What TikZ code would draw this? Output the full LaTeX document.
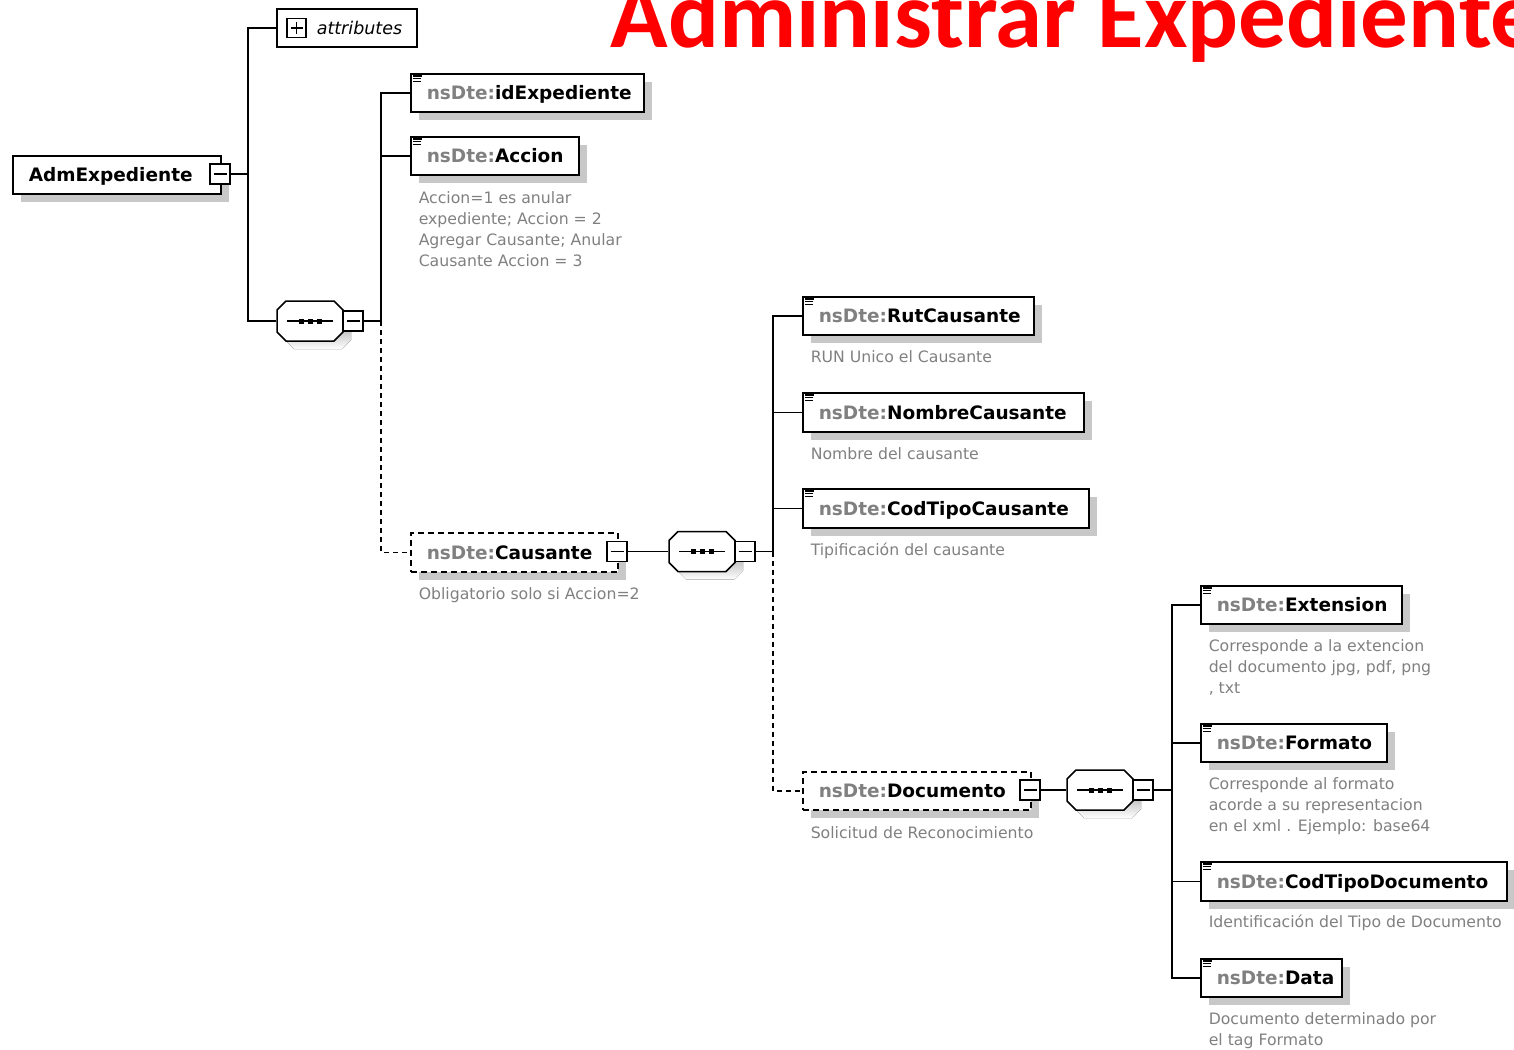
\documentclass[tikz,border=0pt]{standalone}
\usepackage{fontspec}
\setmainfont{DejaVu Sans}
\newfontfamily\titlefont{Carlito}
\usetikzlibrary{calc,shadows}
\definecolor{nsgray}{RGB}{128,128,128}
\definecolor{anncol}{RGB}{128,128,128}
\definecolor{shade}{RGB}{200,200,200}
\definecolor{titlered}{RGB}{255,0,0}
\newcommand\el[1]{\mbox{\textcolor{nsgray}{nsDte:}#1}}
\newcommand\elicon[1]{%
  \draw[line width=1.4pt] ($(#1.north west)+(3,2.8)$) -- +(8.5,0)
                        ($(#1.north west)+(3,5.5)$) -- +(8,0)
                        ($(#1.north west)+(3,8.2)$) -- +(8,0);}
\newcommand\seqat[3]{%
  \begin{scope}[shift={(#2,#3)}]
    \fill[shade] (-16,-12) -- (32,-12) -- (41,-3) -- (41,19) -- (32,28) -- (-16,28) -- (-25,19) -- (-25,-3) -- cycle;
    \node[seqnode] (#1) at (0,0) {};
    \draw[fill=white] (-24,-20) -- (24,-20) -- (33,-11) -- (33,11) -- (24,20) -- (-24,20) -- (-33,11) -- (-33,-11) -- cycle;
    \draw[line width=1.2pt] (-23,0) -- (23,0);
    \fill (-11.5,-2.5) rectangle (-6.5,2.5);
    \fill (-2.5,-2.5) rectangle (2.5,2.5);
    \fill (6.5,-2.5) rectangle (11.5,2.5);
  \end{scope}}
\begin{document}
\begin{tikzpicture}[x=1pt,y=-1pt,line width=1.5pt,
  elem/.style={draw=black, fill=white, line width=1.5pt, minimum height=38pt,
    inner xsep=16pt, inner ysep=0pt, align=left, text height=15pt, text depth=1.5pt,
    font=\fontsize{18.5}{22}\selectfont\bfseries, anchor=north west,
    drop shadow={shadow xshift=8pt, shadow yshift=-8pt, fill=shade, opacity=1}},
  optelem/.style={elem, dash pattern=on 6pt off 4pt},
  mbox/.style={draw, fill=white, line width=1.3pt, minimum size=20pt, inner sep=0pt,
    path picture={\draw[line width=1.3pt] ([xshift=3.5pt]path picture bounding box.west) -- ([xshift=-3.5pt]path picture bounding box.east);}},
  pbox/.style={draw, fill=white, line width=1.3pt, minimum size=19pt, inner sep=0pt,
    path picture={\draw[line width=1.3pt] ([xshift=3.5pt]path picture bounding box.west) -- ([xshift=-3.5pt]path picture bounding box.east)
      ([yshift=-3.5pt]path picture bounding box.north) -- ([yshift=3.5pt]path picture bounding box.south);}},
  seqnode/.style={minimum width=66pt, minimum height=40pt, inner sep=0pt},
  ann/.style={anchor=north west, inner sep=0pt, align=left, text=anncol,
    font=\fontsize{15.7}{21}\selectfont},
  conn/.style={line width=1.5pt},
  optconn/.style={line width=1.5pt, dash pattern=on 5pt off 4pt}]
\useasboundingbox (0,0) rectangle (1514,1049);
% title
\begin{scope}
  \clip (0,0) rectangle (1514,1049);
  \node[anchor=base west, inner sep=0pt, text=titlered,
        font=\fontsize{95}{100}\selectfont\titlefont\bfseries] (title) at (610,47.5) {Administrar Expediente};
\end{scope}
% root
\node[elem, text width=176pt] (adm) at (12,155) {\mbox{AdmExpediente}};
\node[mbox] (admm) at (220,174) {};
% attributes
\node[draw, fill=white, line width=1.5pt, minimum width=140pt, minimum height=38pt, inner sep=0pt,
      font=\fontsize{17.5}{20}\selectfont\itshape] (attr) at (347,28) {\hspace*{25pt}attributes};
\node[pbox] (attrp) at (296.5,28) {};
% sequence 1
\seqat{s1}{310}{321}
\node[mbox] (s1m) at (353,321) {};
% level 2
\node[elem, text width=201pt] (idexp) at (410,73) {\el{idExpediente}};
\elicon{idexp}
\node[elem, text width=136pt] (accion) at (410,136) {\el{Accion}};
\elicon{accion}
\node[ann] (aaccion) at (418,188.3) {\strut Accion=1 es anular\\expediente; Accion = 2\\Agregar Causante; Anular\\Causante Accion = 3};
\node[optelem, text width=175pt, minimum height=39pt] (caus) at (410,532) {\el{Causante}};
\node[mbox] (causm) at (617,551.5) {};
\node[ann] (acaus) at (418,584.3) {\strut Obligatorio solo si Accion=2};
% sequence 2
\seqat{s2}{702}{551.5}
\node[mbox] (s2m) at (745,551.5) {};
% level 3
\node[elem, text width=199pt] (rut) at (802,296) {\el{RutCausante}};
\elicon{rut}
\node[ann] (arut) at (810,347.3) {\strut RUN Unico el Causante};
\node[elem, text width=249pt, minimum height=39pt] (nombre) at (802,392) {\el{NombreCausante}};
\elicon{nombre}
\node[ann] (anombre) at (810,444.3) {\strut Nombre del causante};
\node[elem, text width=254pt, minimum height=39pt] (codtc) at (802,488) {\el{CodTipoCausante}};
\elicon{codtc}
\node[ann] (acodtc) at (810,540.3) {\strut Tipificación del causante};
\node[optelem, text width=196pt] (doc) at (802,771) {\el{Documento}};
\node[mbox] (docm) at (1030,790) {};
\node[ann] (adoc) at (810,823.3) {\strut Solicitud de Reconocimiento};
% sequence 3
\seqat{s3}{1100}{790}
\node[mbox] (s3m) at (1143,790) {};
% level 4
\node[elem, text width=169pt] (ext) at (1200,585) {\el{Extension}};
\elicon{ext}
\node[ann] (aext) at (1208,636.3) {\strut Corresponde a la extencion\\del documento jpg, pdf, png\\, txt};
\node[elem, text width=154pt] (formato) at (1200,723) {\el{Formato}};
\elicon{formato}
\node[ann] (aformato) at (1208,774.3) {\strut Corresponde al formato\\acorde a su representacion\\en el xml . Ejemplo: base64};
\node[elem, text width=274pt, minimum height=39pt] (codtd) at (1200,861) {\el{CodTipoDocumento}};
\elicon{codtd}
\node[ann] (acodtd) at (1208,912.3) {\strut Identificación del Tipo de Documento};
\node[elem, text width=109pt] (data) at (1200,958) {\el{Data}};
\elicon{data}
\node[ann] (adata) at (1208,1009.3) {\strut Documento determinado por\\el tag Formato};
% connectors
\coordinate (jA) at (248,174);
\coordinate (jB) at (381,321);
\coordinate (jC) at (773,551.5);
\coordinate (jD) at (1172,790);
\draw[conn] (admm.east) -- (jA);
\draw[conn] (attr.west) -| (jA) |- (s1.west);
\draw[conn] (s1m.east) -- (jB);
\draw[conn] (idexp.west) -| (jB);
\draw[conn] (accion.west) -- (accion.west -| jB);
\draw[optconn] (jB) |- (caus.west);
\draw[conn] (causm.east) -- (s2.west);
\draw[conn] (s2m.east) -- (jC);
\draw[conn] (rut.west) -| (jC);
\draw[conn] (nombre.west) -- (nombre.west -| jC);
\draw[conn] (codtc.west) -- (codtc.west -| jC);
\draw[optconn] (jC) |- (doc.west);
\draw[conn] (docm.east) -- (s3.west);
\draw[conn] (s3m.east) -- (jD);
\draw[conn] (ext.west) -| (jD) |- (data.west);
\draw[conn] (formato.west) -- (formato.west -| jD);
\draw[conn] (codtd.west) -- (codtd.west -| jD);
\end{tikzpicture}
\end{document}
